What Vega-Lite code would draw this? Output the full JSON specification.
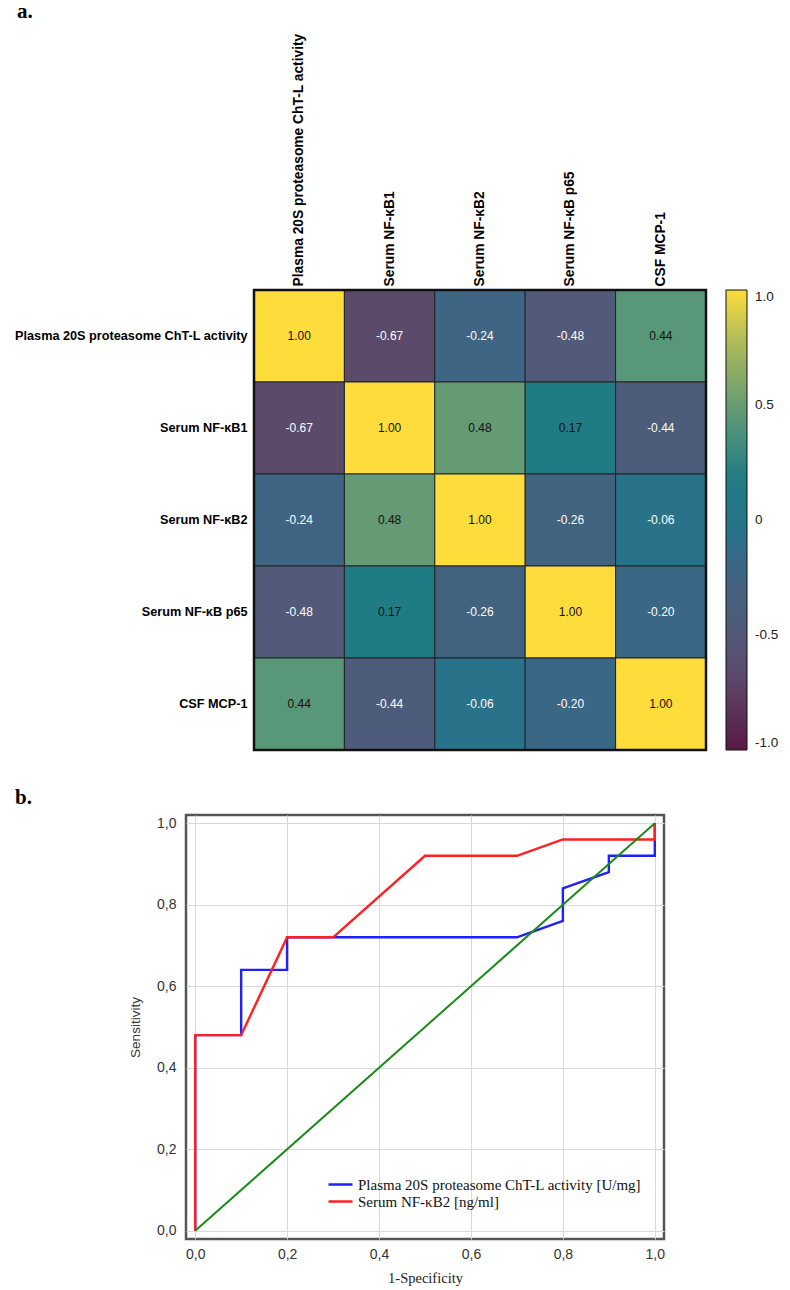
{
  "$schema": "https://vega.github.io/schema/vega-lite/v6.json",
  "background": "white",
  "padding": {"left": 13, "top": 0, "right": 5, "bottom": 2},
  "config": {"font": "Liberation Sans", "locale": {"number": {"decimal": ".", "thousands": ",", "grouping": [3], "currency": ["$", ""], "minus": "-"}}},
  "spacing": 33,
  "vconcat": [
    {
      "title": {"text": "a.", "anchor": "start", "frame": "group", "dx": -169, "font": "Liberation Serif", "fontSize": 21, "fontWeight": "bold", "color": "black", "offset": 11},
      "width": 520,
      "height": 460,
      "view": {"stroke": null},
      "data": {"values": [
        {"row": "Plasma 20S proteasome ChT-L activity", "col": "Plasma 20S proteasome ChT-L activity", "r": 1.00},
        {"row": "Plasma 20S proteasome ChT-L activity", "col": "Serum NF-κB1", "r": -0.67},
        {"row": "Plasma 20S proteasome ChT-L activity", "col": "Serum NF-κB2", "r": -0.24},
        {"row": "Plasma 20S proteasome ChT-L activity", "col": "Serum NF-κB p65", "r": -0.48},
        {"row": "Plasma 20S proteasome ChT-L activity", "col": "CSF MCP-1", "r": 0.44},
        {"row": "Serum NF-κB1", "col": "Plasma 20S proteasome ChT-L activity", "r": -0.67},
        {"row": "Serum NF-κB1", "col": "Serum NF-κB1", "r": 1.00},
        {"row": "Serum NF-κB1", "col": "Serum NF-κB2", "r": 0.48},
        {"row": "Serum NF-κB1", "col": "Serum NF-κB p65", "r": 0.17},
        {"row": "Serum NF-κB1", "col": "CSF MCP-1", "r": -0.44},
        {"row": "Serum NF-κB2", "col": "Plasma 20S proteasome ChT-L activity", "r": -0.24},
        {"row": "Serum NF-κB2", "col": "Serum NF-κB1", "r": 0.48},
        {"row": "Serum NF-κB2", "col": "Serum NF-κB2", "r": 1.00},
        {"row": "Serum NF-κB2", "col": "Serum NF-κB p65", "r": -0.26},
        {"row": "Serum NF-κB2", "col": "CSF MCP-1", "r": -0.06},
        {"row": "Serum NF-κB p65", "col": "Plasma 20S proteasome ChT-L activity", "r": -0.48},
        {"row": "Serum NF-κB p65", "col": "Serum NF-κB1", "r": 0.17},
        {"row": "Serum NF-κB p65", "col": "Serum NF-κB2", "r": -0.26},
        {"row": "Serum NF-κB p65", "col": "Serum NF-κB p65", "r": 1.00},
        {"row": "Serum NF-κB p65", "col": "CSF MCP-1", "r": -0.20},
        {"row": "CSF MCP-1", "col": "Plasma 20S proteasome ChT-L activity", "r": 0.44},
        {"row": "CSF MCP-1", "col": "Serum NF-κB1", "r": -0.44},
        {"row": "CSF MCP-1", "col": "Serum NF-κB2", "r": -0.06},
        {"row": "CSF MCP-1", "col": "Serum NF-κB p65", "r": -0.20},
        {"row": "CSF MCP-1", "col": "CSF MCP-1", "r": 1.00}
      ]},
      "encoding": {
        "x": {"field": "col", "type": "nominal",
          "scale": {"domain": ["Plasma 20S proteasome ChT-L activity", "Serum NF-κB1", "Serum NF-κB2", "Serum NF-κB p65", "CSF MCP-1"], "paddingInner": 0, "paddingOuter": 0.3761, "align": 1},
          "axis": {"orient": "top", "title": null, "labelAngle": -90, "labelFontWeight": "bold", "labelFontSize": 13.8, "labelColor": "black", "ticks": false, "domain": false, "labelPadding": 4, "labelLimit": 400}},
        "y": {"field": "row", "type": "nominal",
          "scale": {"domain": ["Plasma 20S proteasome ChT-L activity", "Serum NF-κB1", "Serum NF-κB2", "Serum NF-κB p65", "CSF MCP-1"], "paddingInner": 0, "paddingOuter": 0},
          "axis": {"title": null, "labelFontWeight": "bold", "labelFontSize": 12.7, "labelColor": "black", "ticks": false, "domain": false, "labelPadding": 7, "labelLimit": 400, "offset": -68}}
      },
      "layer": [
        {
          "mark": {"type": "rect", "stroke": "#222", "strokeWidth": 1},
          "encoding": {
            "color": {"field": "r", "type": "quantitative",
              "scale": {
                "domain": [-1, -0.67, -0.48, -0.44, -0.26, -0.24, -0.2, -0.06, 0.17, 0.44, 0.48, 0.75, 1],
                "range": ["#5a1a45", "#5b4a6a", "#525a7a", "#4e5c7b", "#42637f", "#3f6585", "#3a6786", "#28728a", "#1f7b84", "#589878", "#649a74", "#a6b85c", "#fddc3c"],
                "interpolate": "rgb"
              },
              "legend": {"title": null, "orient": "right", "offset": 20, "direction": "vertical", "gradientLength": 460, "gradientThickness": 21,
                "gradientStrokeColor": "#111", "gradientStrokeWidth": 1, "values": [-1, -0.5, 0, 0.5, 1],
                "labelExpr": "datum.value == 0 ? '0' : format(datum.value, '.1f')", "labelFontSize": 13.5, "labelColor": "#222", "labelBaseline": "middle", "labelOffset": 8, "labelOverlap": false}}
          }
        },
        {
          "mark": {"type": "text", "fontSize": 12},
          "encoding": {
            "text": {"field": "r", "type": "quantitative", "format": ".2f"},
            "color": {"condition": {"test": "datum.r > 0", "value": "#111"}, "value": "white"}
          }
        },
        {
          "data": {"values": [{"first": "Plasma 20S proteasome ChT-L activity", "last": "CSF MCP-1"}]},
          "mark": {"type": "rect", "fill": null, "stroke": "#111", "strokeWidth": 2.5},
          "encoding": {
            "x": {"field": "first", "type": "nominal", "bandPosition": 0},
            "x2": {"field": "last", "bandPosition": 1},
            "y": {"field": "first", "type": "nominal", "bandPosition": 0},
            "y2": {"field": "last", "bandPosition": 1}
          }
        }
      ]
    },
    {
      "title": {"text": "b.", "anchor": "start", "frame": "group", "dx": -171, "font": "Liberation Serif", "fontSize": 21, "fontWeight": "bold", "color": "black", "offset": 7},
      "width": 478,
      "height": 424,
      "view": {"stroke": "#555", "strokeWidth": 2.5},
      "encoding": {
        "x": {"field": "x", "type": "quantitative", "scale": {"domain": [-0.02, 1.02], "nice": false, "zero": false},
          "axis": {"title": "1-Specificity", "values": [0, 0.2, 0.4, 0.6, 0.8, 1], "labelExpr": "replace(format(datum.value, '.1f'), '.', ',')",
            "grid": true, "gridColor": "#d9d9d9", "domain": false, "ticks": false, "labelFontSize": 14, "labelColor": "#333", "labelPadding": 8,
            "titleFont": "Liberation Serif", "titleFontSize": 14.5, "titleFontWeight": "normal", "titleColor": "#222", "titlePadding": 10}},
        "y": {"field": "y", "type": "quantitative", "scale": {"domain": [-0.02, 1.02], "nice": false, "zero": false},
          "axis": {"title": "Sensitivity", "values": [0, 0.2, 0.4, 0.6, 0.8, 1], "labelExpr": "replace(format(datum.value, '.1f'), '.', ',')",
            "grid": true, "gridColor": "#d9d9d9", "domain": false, "ticks": false, "labelFontSize": 14, "labelColor": "#333", "labelPadding": 10,
            "titleFontSize": 13.5, "titleFontWeight": "normal", "titleColor": "#333", "titlePadding": 14}}
      },
      "layer": [
        {
          "data": {"values": [
            {"series": "Plasma 20S proteasome ChT-L activity [U/mg]", "i": 1, "x": 0, "y": 0},
            {"series": "Plasma 20S proteasome ChT-L activity [U/mg]", "i": 2, "x": 0, "y": 0.48},
            {"series": "Plasma 20S proteasome ChT-L activity [U/mg]", "i": 3, "x": 0.1, "y": 0.48},
            {"series": "Plasma 20S proteasome ChT-L activity [U/mg]", "i": 4, "x": 0.1, "y": 0.64},
            {"series": "Plasma 20S proteasome ChT-L activity [U/mg]", "i": 5, "x": 0.2, "y": 0.64},
            {"series": "Plasma 20S proteasome ChT-L activity [U/mg]", "i": 6, "x": 0.2, "y": 0.72},
            {"series": "Plasma 20S proteasome ChT-L activity [U/mg]", "i": 7, "x": 0.7, "y": 0.72},
            {"series": "Plasma 20S proteasome ChT-L activity [U/mg]", "i": 8, "x": 0.8, "y": 0.76},
            {"series": "Plasma 20S proteasome ChT-L activity [U/mg]", "i": 9, "x": 0.8, "y": 0.84},
            {"series": "Plasma 20S proteasome ChT-L activity [U/mg]", "i": 10, "x": 0.9, "y": 0.88},
            {"series": "Plasma 20S proteasome ChT-L activity [U/mg]", "i": 11, "x": 0.9, "y": 0.92},
            {"series": "Plasma 20S proteasome ChT-L activity [U/mg]", "i": 12, "x": 1.0, "y": 0.92},
            {"series": "Plasma 20S proteasome ChT-L activity [U/mg]", "i": 13, "x": 1.0, "y": 1.0},
            {"series": "Serum NF-κB2 [ng/ml]", "i": 1, "x": 0, "y": 0},
            {"series": "Serum NF-κB2 [ng/ml]", "i": 2, "x": 0, "y": 0.48},
            {"series": "Serum NF-κB2 [ng/ml]", "i": 3, "x": 0.1, "y": 0.48},
            {"series": "Serum NF-κB2 [ng/ml]", "i": 4, "x": 0.2, "y": 0.72},
            {"series": "Serum NF-κB2 [ng/ml]", "i": 5, "x": 0.3, "y": 0.72},
            {"series": "Serum NF-κB2 [ng/ml]", "i": 6, "x": 0.5, "y": 0.92},
            {"series": "Serum NF-κB2 [ng/ml]", "i": 7, "x": 0.7, "y": 0.92},
            {"series": "Serum NF-κB2 [ng/ml]", "i": 8, "x": 0.8, "y": 0.96},
            {"series": "Serum NF-κB2 [ng/ml]", "i": 9, "x": 1.0, "y": 0.96},
            {"series": "Serum NF-κB2 [ng/ml]", "i": 10, "x": 1.0, "y": 1.0}
          ]},
          "mark": {"type": "line", "strokeWidth": 2.4},
          "encoding": {
            "order": {"field": "i", "type": "quantitative"},
            "color": {"field": "series", "type": "nominal",
              "scale": {"domain": ["Plasma 20S proteasome ChT-L activity [U/mg]", "Serum NF-κB2 [ng/ml]"], "range": ["#1f1fff", "#ff2020"]},
              "legend": {"title": null, "orient": "none", "legendX": 147, "legendY": 362, "symbolType": "M-2,0H2", "symbolSize": 144, "symbolStrokeWidth": 2.5,
                "labelFont": "Liberation Serif", "labelFontSize": 15, "labelColor": "#111", "labelOffset": 10, "rowPadding": 1, "padding": 0, "labelLimit": 400}}
          }
        },
        {
          "data": {"values": [{"x": 0, "y": 0}, {"x": 1, "y": 1}]},
          "mark": {"type": "line", "color": "#1a8a1a", "strokeWidth": 2},
          "encoding": {}
        }
      ]
    }
  ]
}
